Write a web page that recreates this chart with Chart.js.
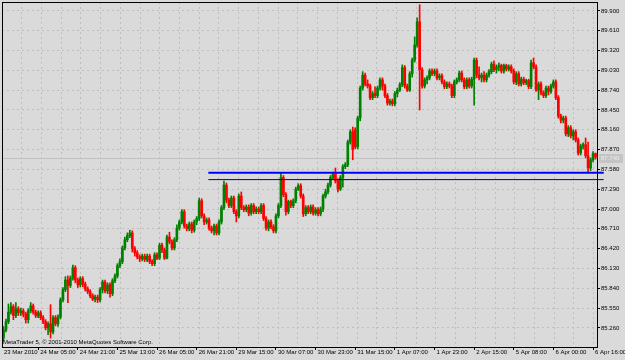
<!DOCTYPE html>
<html lang="en">
<head>
  <meta charset="UTF-8" />
  <title>H1 candles</title>
  <script src="https://cdn.jsdelivr.net/npm/chart.js@4"></script>
  <style>
    html, body { margin: 0; padding: 0; background: #dadada; }
    .wrap { width: 625px; height: 360px; }
  </style>
</head>
<body>
  <div class="wrap"><canvas id="chart" width="625" height="360"></canvas></div>

  <script>
    // hourly candles, 23 Mar 2010 -> 6 Apr 2010 16:00
    const opens = [85.11,85.23,85.35,85.49,85.57,85.44,85.54,85.48,85.51,85.46,85.38,85.51,85.58,85.49,85.44,85.48,85.41,85.35,85.26,85.32,
      85.20,85.41,85.32,85.42,85.67,85.82,85.96,85.88,85.99,86.14,85.96,85.89,85.98,85.90,85.83,85.79,85.73,85.68,85.71,85.67,
      85.82,85.93,85.80,85.89,85.76,85.95,86.02,86.17,86.23,86.43,86.55,86.61,86.65,86.42,86.36,86.30,86.27,86.31,86.26,86.31,
      86.23,86.20,86.33,86.28,86.47,86.40,86.28,86.59,86.52,86.43,86.55,86.72,86.81,86.96,86.75,86.71,86.78,86.69,86.81,86.86,
      87.12,86.90,86.81,86.84,86.72,86.68,86.75,86.65,86.81,87.02,87.35,87.13,87.05,87.16,86.96,86.90,87.19,87.02,86.99,87.03,
      86.94,87.05,86.96,87.00,86.96,87.05,86.86,86.72,86.81,86.74,86.68,86.90,87.05,87.46,87.21,86.96,87.11,87.05,87.12,87.29,
      87.34,87.19,86.93,87.02,86.96,87.03,86.94,86.99,86.93,87.00,87.19,87.25,87.35,87.46,87.51,87.41,87.29,87.46,87.62,87.65,
      87.98,88.13,88.16,87.91,88.33,88.77,88.96,88.83,88.80,88.63,88.69,88.66,88.77,88.89,88.80,88.66,88.55,88.58,88.54,88.69,
      88.74,88.82,89.07,88.80,88.74,88.98,89.18,89.40,89.74,89.04,88.80,88.89,88.92,89.02,88.98,89.02,88.92,88.95,88.86,88.79,
      88.83,88.80,88.66,88.86,88.89,88.99,88.89,88.79,88.89,88.80,88.90,89.18,88.96,88.92,88.96,88.89,88.96,89.01,89.12,89.04,
      89.08,89.10,89.02,89.10,89.05,89.08,89.02,88.86,88.98,88.83,88.90,88.85,88.88,88.79,89.14,89.08,88.74,88.83,88.70,88.66,
      88.77,88.72,88.80,88.86,88.63,88.36,88.30,88.33,88.10,88.19,88.07,88.13,88.01,87.82,87.92,87.94,87.78,87.60,87.72,87.81];
    const highs = [85.28,85.39,85.61,85.63,85.60,85.63,85.57,85.55,85.54,85.49,85.54,85.63,85.61,85.52,85.51,85.51,85.44,85.38,85.35,85.60,
      85.44,85.44,85.45,85.70,85.85,86.01,86.02,86.02,86.18,86.17,85.99,86.01,86.01,85.93,85.86,85.82,85.76,85.74,85.74,85.85,
      85.96,85.96,85.92,85.92,85.98,86.05,86.20,86.27,86.46,86.59,86.65,86.69,86.68,86.45,86.39,86.33,86.34,86.34,86.34,86.34,
      86.26,86.36,86.36,86.50,86.50,86.43,86.62,86.66,86.55,86.58,86.77,86.84,86.99,86.99,86.78,86.81,86.81,86.84,86.89,87.16,
      87.15,86.93,86.87,86.87,86.75,86.78,86.78,86.84,87.05,87.41,87.38,87.16,87.19,87.19,86.99,87.22,87.25,87.05,87.06,87.06,
      87.08,87.08,87.03,87.03,87.08,87.08,86.89,86.84,86.84,86.77,86.93,87.08,87.53,87.49,87.24,87.13,87.13,87.15,87.32,87.37,
      87.37,87.22,87.05,87.05,87.06,87.06,87.02,87.02,87.03,87.22,87.29,87.38,87.49,87.54,87.60,87.44,87.49,87.65,87.68,88.01,
      88.16,88.20,88.19,88.36,88.80,89.01,88.99,88.89,88.83,88.72,88.79,88.80,88.92,88.92,88.83,88.69,88.61,88.61,88.72,88.77,
      88.85,89.11,89.10,88.83,89.01,89.21,89.52,89.80,89.99,89.07,88.92,88.95,89.05,89.05,89.05,89.05,88.98,88.98,88.89,88.86,
      88.86,88.83,88.89,88.92,89.02,89.02,88.92,88.92,88.92,88.93,89.21,89.21,89.08,88.99,89.01,88.99,89.04,89.15,89.17,89.11,
      89.14,89.12,89.12,89.12,89.11,89.11,89.05,89.01,89.01,88.93,88.93,88.90,88.90,89.18,89.21,89.11,88.86,88.86,88.73,88.80,
      88.80,88.83,88.89,88.89,88.66,88.39,88.36,88.36,88.22,88.22,88.16,88.16,88.04,87.95,87.97,88.04,87.98,87.75,87.84,87.82];
    const lows = [85.07,85.20,85.32,85.46,85.38,85.41,85.44,85.44,85.42,85.33,85.33,85.48,85.46,85.41,85.41,85.38,85.32,85.23,85.16,85.11,
      85.17,85.29,85.28,85.39,85.64,85.79,85.63,85.85,85.96,85.92,85.85,85.86,85.86,85.80,85.76,85.70,85.66,85.64,85.63,85.64,
      85.77,85.77,85.76,85.71,85.73,85.92,85.99,86.14,86.20,86.40,86.52,86.58,86.37,86.31,86.27,86.23,86.24,86.23,86.23,86.20,
      86.17,86.17,86.26,86.26,86.36,86.26,86.27,86.49,86.40,86.40,86.52,86.69,86.78,86.72,86.68,86.68,86.65,86.66,86.77,86.83,
      86.87,86.77,86.78,86.69,86.65,86.62,86.62,86.62,86.78,86.99,87.09,87.02,87.02,86.93,86.81,86.87,86.99,86.96,86.96,86.90,
      86.91,86.93,86.93,86.93,86.93,86.83,86.69,86.68,86.71,86.65,86.65,86.87,87.02,87.18,86.91,86.93,87.02,87.02,87.09,87.27,
      87.16,86.89,86.90,86.93,86.93,86.91,86.91,86.90,86.90,86.96,87.16,87.22,87.32,87.43,87.38,87.25,87.27,87.32,87.59,87.62,
      87.95,87.72,87.88,87.88,88.29,88.74,88.80,88.77,88.60,88.60,88.63,88.63,88.74,88.74,88.63,88.52,88.52,88.51,88.51,88.64,
      88.72,88.79,88.77,88.72,88.72,88.93,89.15,89.37,88.45,88.77,88.77,88.83,88.89,88.95,88.95,88.89,88.89,88.83,88.76,88.76,
      88.77,88.63,88.63,88.83,88.86,88.86,88.76,88.76,88.77,88.77,88.52,88.92,88.89,88.86,88.86,88.86,88.93,88.98,89.01,88.99,
      89.02,88.99,88.99,89.02,89.02,88.99,88.83,88.82,88.80,88.80,88.82,88.82,88.76,88.76,89.05,88.72,88.60,88.67,88.63,88.63,
      88.67,88.69,88.77,88.60,88.33,88.26,88.26,88.07,88.06,88.04,88.01,87.98,87.79,87.79,87.88,87.75,87.53,87.56,87.69,87.73];
    const closes = [85.23,85.35,85.49,85.57,85.44,85.54,85.48,85.51,85.46,85.38,85.51,85.58,85.49,85.44,85.48,85.41,85.35,85.26,85.32,85.20,
      85.41,85.32,85.42,85.67,85.82,85.96,85.88,85.99,86.14,85.96,85.89,85.98,85.90,85.83,85.79,85.73,85.68,85.71,85.67,85.82,
      85.93,85.80,85.89,85.76,85.95,86.02,86.17,86.23,86.43,86.55,86.61,86.65,86.42,86.36,86.30,86.27,86.31,86.26,86.31,86.23,
      86.20,86.33,86.28,86.47,86.40,86.28,86.59,86.52,86.43,86.55,86.72,86.81,86.96,86.75,86.71,86.78,86.69,86.81,86.86,87.12,
      86.90,86.81,86.84,86.72,86.68,86.75,86.65,86.81,87.02,87.35,87.13,87.05,87.16,86.96,86.90,87.19,87.02,86.99,87.03,86.94,
      87.05,86.96,87.00,86.96,87.05,86.86,86.72,86.81,86.74,86.68,86.90,87.05,87.46,87.21,86.96,87.11,87.05,87.12,87.29,87.34,
      87.19,86.93,87.02,86.96,87.03,86.94,86.99,86.93,87.00,87.19,87.25,87.35,87.46,87.51,87.41,87.29,87.46,87.62,87.65,87.98,
      88.13,87.87,87.91,88.33,88.77,88.96,88.83,88.80,88.63,88.69,88.66,88.77,88.89,88.80,88.66,88.55,88.58,88.54,88.69,88.74,
      88.82,89.07,88.80,88.74,88.98,89.18,89.40,89.74,89.04,88.80,88.89,88.92,89.02,88.98,89.02,88.92,88.95,88.86,88.79,88.83,
      88.80,88.66,88.86,88.89,88.99,88.89,88.79,88.89,88.80,88.90,89.18,88.96,88.92,88.96,88.89,88.96,89.01,89.12,89.04,89.08,
      89.10,89.02,89.10,89.05,89.08,89.02,88.86,88.98,88.83,88.90,88.85,88.88,88.79,89.14,89.08,88.74,88.83,88.70,88.66,88.77,
      88.72,88.80,88.86,88.63,88.36,88.30,88.33,88.10,88.19,88.07,88.13,88.01,87.82,87.92,87.94,87.78,87.60,87.72,87.81,87.76];

    // time axis labels and the bar each one sits on (first one sits on the left edge)
    const timeLabels = ["23 Mar 2010", "24 Mar 05:00", "24 Mar 21:00", "25 Mar 13:00", "26 Mar 05:00", "26 Mar 21:00",
      "29 Mar 15:00", "30 Mar 07:00", "30 Mar 23:00", "31 Mar 15:00", "1 Apr 07:00", "1 Apr 23:00",
      "2 Apr 15:00", "5 Apr 08:00", "6 Apr 00:00", "6 Apr 16:00"];
    const labelBars = [-0.6, 14, 30, 46, 62, 78, 94, 110, 126, 142, 158, 174, 190, 206, 222, 238];

    const priceTicks = [89.90, 89.61, 89.32, 89.03, 88.74, 88.45, 88.16, 87.87, 87.58, 87.29,
      87.00, 86.71, 86.42, 86.13, 85.84, 85.55, 85.26];

    const bidPrice = 87.74;
    const supportLevel = 87.53;   // blue
    const lowerLevel = 87.43;     // navy
    const levelBars = [82.7, 242.3];
    const watermark = "MetaTrader 5, \u00a9 2001-2010 MetaQuotes Software Corp.";

    const FONT = { family: "'Liberation Sans', Arial, sans-serif", size: 6 };
    const GRID = '#bebebe';

    const colors = closes.map((c, i) => c >= opens[i] ? '#008000' : '#ff0000');
    const gridBars = [];
    for (let k = 0; k < 30; k++) gridBars.push(7.4 + k * 7.96);

    const frame = {
      id: 'frame',
      beforeDatasetsDraw(chart) {
        const { ctx, chartArea: a, scales: { y } } = chart;
        const py = Math.round(y.getPixelForValue(bidPrice)) + 0.5;
        ctx.save();
        ctx.strokeStyle = '#c2c2c2';
        ctx.lineWidth = 1;
        ctx.beginPath();
        ctx.moveTo(a.left, py);
        ctx.lineTo(a.right, py);
        ctx.stroke();
        ctx.restore();
      },
      afterDatasetsDraw(chart) {
        const { ctx, chartArea: a } = chart;
        ctx.save();
        ctx.font = `${FONT.size}px ${FONT.family}`;
        ctx.fillStyle = '#000';
        ctx.textBaseline = 'alphabetic';
        ctx.textAlign = 'left';
        ctx.fillText(watermark, a.left + 1, a.bottom - 3);
        ctx.restore();
      },
      afterDraw(chart) {
        const { ctx, chartArea: a, scales: { y } } = chart;
        ctx.save();
        ctx.strokeStyle = '#000';
        ctx.lineWidth = 1;
        ctx.strokeRect(Math.round(a.left) + 0.5, Math.round(a.top) + 0.5,
          Math.round(a.right - a.left), Math.round(a.bottom - a.top));
        // last price box on the price scale
        const py = Math.round(y.getPixelForValue(bidPrice));
        ctx.fillStyle = '#c4c4c4';
        ctx.fillRect(a.right + 2, py - 4, 24, 9);
        ctx.fillStyle = '#ececec';
        ctx.font = `${FONT.size}px ${FONT.family}`;
        ctx.textBaseline = 'middle';
        ctx.fillText(bidPrice.toFixed(3), a.right + 4, py + 0.5);
        ctx.restore();
      }
    };

    new Chart(document.getElementById('chart'), {
      type: 'bar',
      data: {
        datasets: [
          {
            type: 'line',
            data: [{ x: levelBars[0], y: supportLevel }, { x: levelBars[1], y: supportLevel }],
            borderColor: '#0000ff',
            borderWidth: 2,
            pointRadius: 0,
            clip: false,
            order: 0
          },
          {
            type: 'line',
            data: [{ x: levelBars[0], y: lowerLevel }, { x: levelBars[1], y: lowerLevel }],
            borderColor: '#000080',
            borderWidth: 1,
            pointRadius: 0,
            clip: false,
            order: 0
          },
          {
            data: closes.map((c, i) => ({ x: i, y: [opens[i], c] })),
            backgroundColor: colors,
            barThickness: 2,
            minBarLength: 1,
            grouped: false,
            order: 1
          },
          {
            data: closes.map((c, i) => ({ x: i, y: [lows[i], highs[i]] })),
            backgroundColor: colors,
            barThickness: 1,
            grouped: false,
            order: 2
          }
        ]
      },
      options: {
        responsive: false,
        animation: false,
        layout: { padding: { left: 2, top: 2, right: 0, bottom: 0 } },
        plugins: { legend: { display: false }, tooltip: { enabled: false } },
        scales: {
          x: {
            type: 'linear',
            min: -0.6,
            max: 239.6,
            offset: false,
            border: { display: false },
            grid: {
              offset: false,
              drawOnChartArea: false,
              tickLength: 3,
              tickColor: ctx => ctx.index === 0 ? 'rgba(0,0,0,0)' : '#000'
            },
            afterBuildTicks: s => { s.ticks = labelBars.map(v => ({ value: v })); },
            ticks: {
              autoSkip: false,
              maxRotation: 0,
              align: 'start',
              labelOffset: 2,
              padding: -1,
              color: '#000',
              font: FONT,
              callback: v => timeLabels[labelBars.indexOf(v)]
            },
            afterFit: s => { s.height = 13; s.paddingLeft = 0; s.paddingRight = 0; }
          },
          xg: {
            type: 'linear',
            position: 'top',
            min: -0.6,
            max: 239.6,
            offset: false,
            border: { display: false, dash: [2, 3] },
            grid: { offset: false, drawTicks: false, color: GRID },
            afterBuildTicks: s => { s.ticks = gridBars.map(v => ({ value: v })); },
            ticks: { display: false },
            afterFit: s => { s.height = 0; s.paddingLeft = 0; s.paddingRight = 0; }
          },
          y: {
            position: 'right',
            min: 84.98,
            max: 90.03,
            beginAtZero: false,
            border: { display: false, dash: [2, 3] },
            grid: { color: GRID, tickColor: '#000', tickLength: 3, tickBorderDash: [] },
            afterBuildTicks: s => { s.ticks = priceTicks.map(v => ({ value: v })); },
            ticks: {
              padding: 1,
              color: '#000',
              font: FONT,
              callback: v => v.toFixed(3)
            },
            afterFit: s => { s.width = 28; s.paddingTop = 0; s.paddingBottom = 0; }
          }
        }
      },
      plugins: [frame]
    });
  </script>
</body>
</html>
